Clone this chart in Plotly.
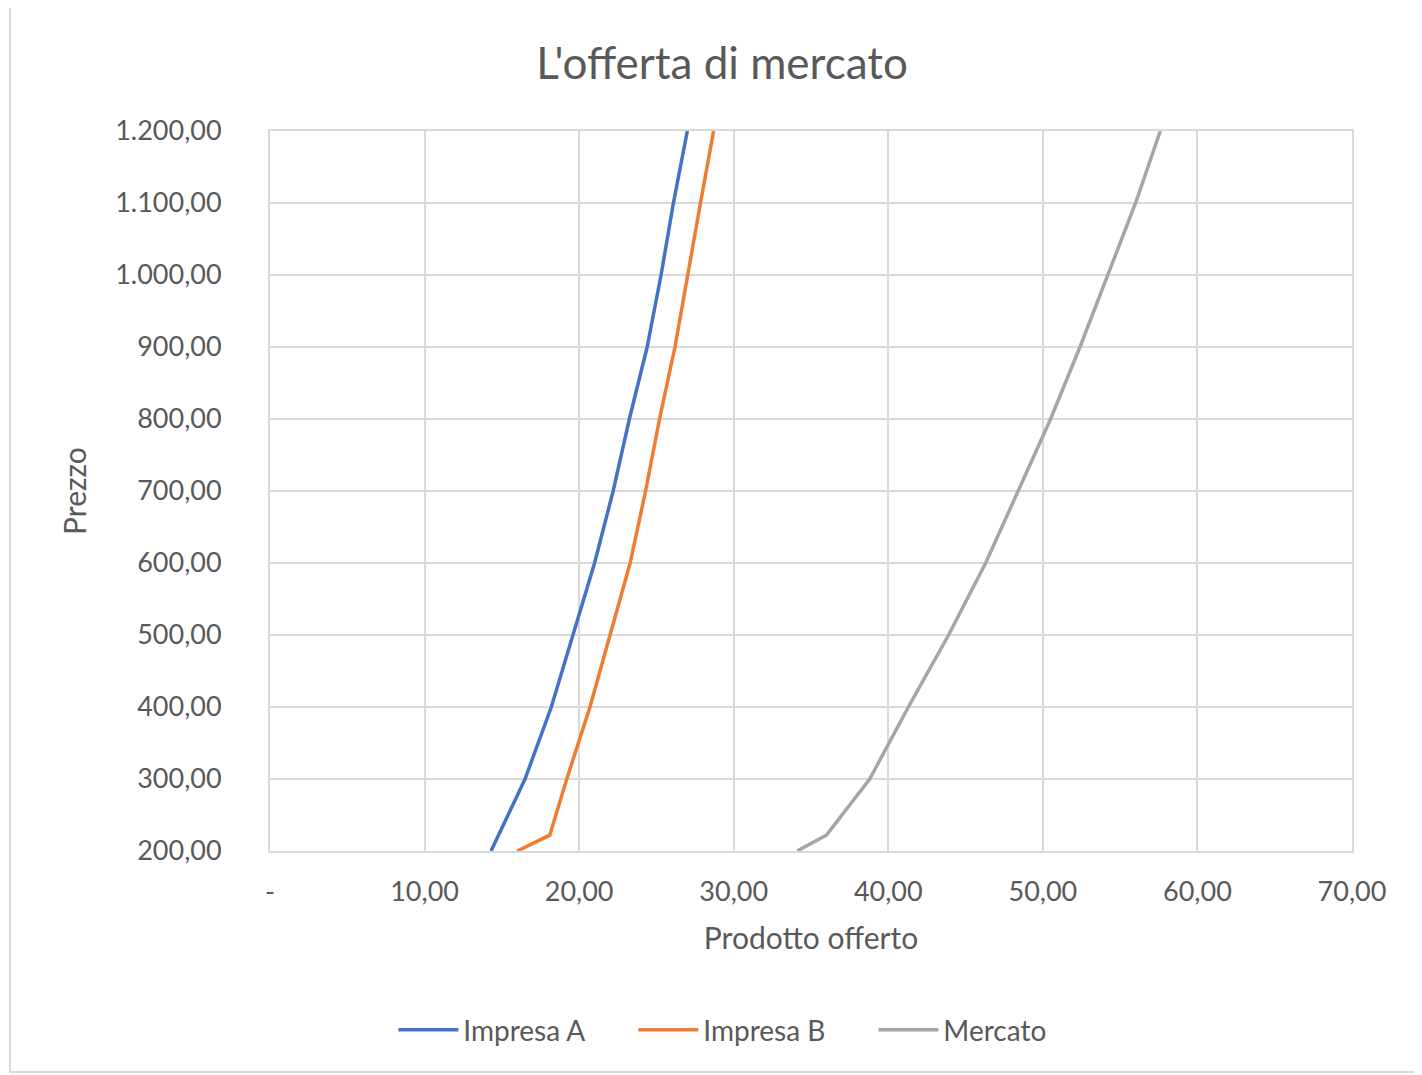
import plotly.graph_objects as go

# Data
prezzo_a = [200, 300, 400, 500, 600, 700, 800, 900, 1000, 1100, 1200]
quant_a = [14.3, 16.5, 18.2, 19.6, 21.0, 22.2, 23.25, 24.4, 25.3, 26.1, 27.0]

prezzo_b = [200, 222, 300, 400, 500, 600, 700, 800, 900, 1000, 1100, 1200]
quant_b = [16.0, 18.1, 19.2, 20.7, 22.0, 23.3, 24.3, 25.2, 26.2, 27.0, 27.85, 28.7]

prezzo_m = [200, 222, 300, 400, 500, 600, 700, 800, 900, 1000, 1100, 1200]
quant_m = [34.1, 36.0, 38.8, 41.3, 43.9, 46.3, 48.4, 50.5, 52.4, 54.2, 56.0, 57.6]

x_ticks = [0, 10, 20, 30, 40, 50, 60, 70]
x_labels = ["-", "10,00", "20,00", "30,00", "40,00", "50,00", "60,00", "70,00"]
y_ticks = [200, 300, 400, 500, 600, 700, 800, 900, 1000, 1100, 1200]
y_labels = ["200,00", "300,00", "400,00", "500,00", "600,00", "700,00", "800,00",
            "900,00", "1.000,00", "1.100,00", "1.200,00"]

FONT = "Lato, 'Open Sans', sans-serif"
TXT = "#595959"
GRID = "#D9D9D9"

fig = go.Figure()
fig.add_trace(go.Scatter(x=quant_a, y=prezzo_a, mode="lines", name="Impresa A",
                         line=dict(color="#4472C4", width=3.5)))
fig.add_trace(go.Scatter(x=quant_b, y=prezzo_b, mode="lines", name="Impresa B",
                         line=dict(color="#ED7D31", width=3.5)))
fig.add_trace(go.Scatter(x=quant_m, y=prezzo_m, mode="lines", name="Mercato",
                         line=dict(color="#A5A5A5", width=3.5)))

fig.update_layout(
    width=1414, height=1067,
    margin=dict(l=262, r=70, t=123, b=224),
    paper_bgcolor="white", plot_bgcolor="white",
    font=dict(family=FONT, color=TXT, size=27),
    title=dict(text="L'offerta di mercato", x=0.505, xref="container", xanchor="center",
               y=0.948, yref="container", yanchor="middle",
               font=dict(size=44, family=FONT, color=TXT)),
    xaxis=dict(range=[0, 70], tickvals=x_ticks, ticktext=x_labels,
               showgrid=True, gridcolor=GRID, gridwidth=2,
               showline=True, linecolor=GRID, linewidth=2, mirror=True,
               zeroline=False, ticks="", ticklabelstandoff=16,
               tickfont=dict(size=27, color=TXT),
               title=dict(text="Prodotto offerto", font=dict(size=30, color=TXT), standoff=22)),
    yaxis=dict(range=[200, 1200], tickvals=y_ticks, ticktext=y_labels,
               showgrid=True, gridcolor=GRID, gridwidth=2,
               showline=True, linecolor=GRID, linewidth=2, mirror=True,
               zeroline=False, ticks="", ticklabelstandoff=41,
               tickfont=dict(size=27, color=TXT),
               title=dict(text="Prezzo", font=dict(size=30, color=TXT), standoff=20)),
    legend=dict(orientation="h", x=0.114, xanchor="left", y=-0.2486, yanchor="middle",
                font=dict(size=28, color=TXT), itemwidth=60, entrywidth=165,
                entrywidthmode="pixels", tracegroupgap=0),
    showlegend=True,
)

fig.add_shape(type="rect", xref="paper", yref="paper",
              x0=-0.2403, x1=1.0628, y0=-0.307, y1=1.175,
              line=dict(color=GRID, width=2), fillcolor="rgba(0,0,0,0)", layer="below")

fig.write_html("out.html")
